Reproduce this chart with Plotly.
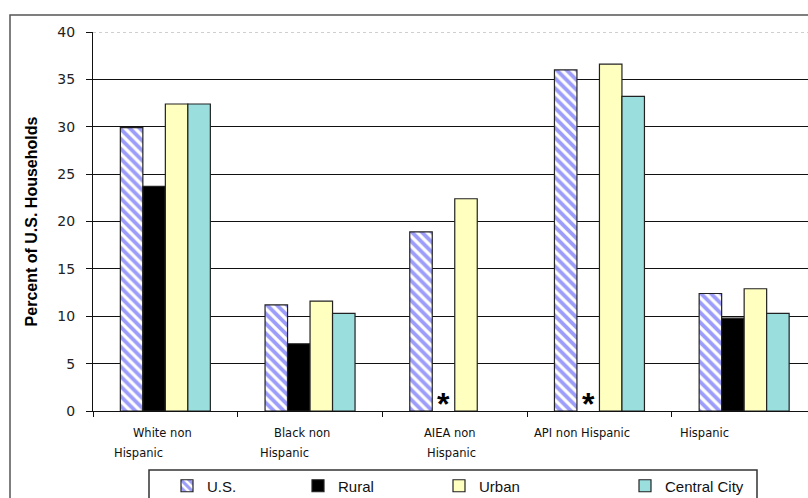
import plotly.graph_objects as go

# Households by race/ethnicity and place type (percent of U.S. households)
groups = ["White non Hispanic", "Black non Hispanic", "AIEA non Hispanic",
          "API non Hispanic", "Hispanic"]
label_lines = [["White non", "Hispanic"], ["Black non", "Hispanic"],
               ["AIEA non", "Hispanic"], ["API non Hispanic"], ["Hispanic"]]
us_vals = [29.9, 11.2, 18.9, 36.0, 12.4]
rural_vals = [23.7, 7.1, None, None, 9.8]
urban_vals = [32.4, 11.6, 22.4, 36.6, 12.9]
central_vals = [32.4, 10.3, None, 33.2, 10.3]
suppressed = ["AIEA non Hispanic", "API non Hispanic"]  # rural estimate not shown
y_ticks = [0, 5, 10, 15, 20, 25, 30, 35, 40]

W, H = 808, 498
L, T, B = 93, 32, 87
outline = dict(color="#222222", width=1.2)

fig = go.Figure()
fig.add_bar(x=groups, y=us_vals, name="U.S.", legend="legend",
            marker=dict(color="white", line=outline,
                        pattern=dict(shape="\\", fgcolor="#3a3af5", bgcolor="white",
                                     size=7, solidity=0.55)))
fig.add_bar(x=groups, y=rural_vals, name="Rural", legend="legend2",
            marker=dict(color="#000000", line=outline))
fig.add_bar(x=groups, y=urban_vals, name="Urban", legend="legend3",
            marker=dict(color="#ffffc0", line=outline))
fig.add_bar(x=groups, y=central_vals, name="Central City", legend="legend4",
            marker=dict(color="#9adede", line=outline))

annotations = []
# asterisks marking suppressed rural estimates
for g in suppressed:
    annotations.append(dict(x=g, y=0, xref="x", yref="y", text="<b>*</b>",
                            showarrow=False, xshift=-11, yanchor="bottom", yshift=-13,
                            font=dict(family="Liberation Sans", size=32, color="#000")))
# category labels, broken over lines
line1_shift = [-34, -38, -33, -67, -66]
line2_shift = [-53, -52, -30, 0, 0]
for g, lines, s1, s2 in zip(groups, label_lines, line1_shift, line2_shift):
    for i, txt in enumerate(lines):
        annotations.append(dict(x=g, y=0, xref="x", yref="y", text=txt,
                                showarrow=False, xanchor="left", yanchor="middle",
                                xshift=s1 if i == 0 else s2, yshift=-22 - 20 * i,
                                font=dict(family="DejaVu Sans", size=11.5, color="#111")))

plot_w = W - L
cat_w = 144.7
x_end = plot_w / cat_w - 0.5

def px_x(p):
    return (p - L) / plot_w

def px_y(p):
    return (H - B - p) / (H - T - B)

shapes = [
    # outer chart frame
    dict(type="rect", xref="paper", yref="paper", x0=px_x(10), x1=px_x(830),
         y0=px_y(530), y1=px_y(15), line=dict(color="#555555", width=1.5),
         fillcolor="rgba(0,0,0,0)", layer="below"),
    # top edge of plotting area
    dict(type="line", xref="paper", yref="y", x0=0, x1=1, y0=40, y1=40,
         line=dict(color="white", width=3)),
    dict(type="line", xref="paper", yref="y", x0=0, x1=1, y0=40, y1=40,
         line=dict(color="#a0a0a0", width=1.2, dash="dot")),
    # legend frame
    dict(type="rect", xref="paper", yref="paper", x0=px_x(149), x1=px_x(757),
         y0=px_y(520), y1=px_y(470), line=dict(color="#333333", width=1.5),
         fillcolor="rgba(0,0,0,0)"),
]

leg_font = dict(family="Liberation Sans Narrow, Liberation Sans", size=15, color="#111")
def leg(px):
    return dict(xref="container", yref="container", x=px / W, y=1 - 486 / H,
                xanchor="left", yanchor="middle", bgcolor="rgba(0,0,0,0)",
                borderwidth=0, font=leg_font, orientation="h")

fig.update_layout(
    width=W, height=H,
    margin=dict(l=L, r=0, t=T, b=B, autoexpand=False),
    paper_bgcolor="white", plot_bgcolor="white",
    barmode="group", bargap=0.378, bargroupgap=0,
    showlegend=True,
    legend=leg(167), legend2=leg(298), legend3=leg(439), legend4=leg(625),
    xaxis=dict(range=[-0.5, x_end], showticklabels=False, tickson="boundaries",
               ticks="outside", ticklen=5, tickcolor="#111", showline=True,
               linecolor="#111", linewidth=1.2, showgrid=False, zeroline=False),
    yaxis=dict(range=[0, 40], tickvals=y_ticks, ticks="outside", ticklen=6,
               tickcolor="#111", showline=True, linecolor="#111", linewidth=1.2,
               showgrid=True, gridcolor="#111", gridwidth=1.2, zeroline=False,
               ticklabelstandoff=8,
               tickfont=dict(family="DejaVu Sans", size=14, color="#222"),
               title=dict(text="<b>Percent of U.S. Households</b>", standoff=15,
                          font=dict(family="Liberation Sans", size=16, color="#000"))),
    annotations=annotations, shapes=shapes,
)

fig.write_html("out.html")
